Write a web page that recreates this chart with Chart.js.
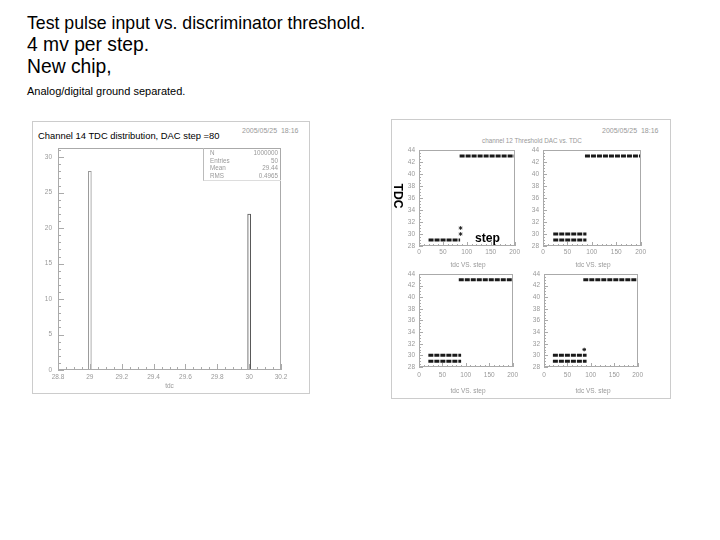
<!DOCTYPE html>
<html>
<head>
<meta charset="utf-8">
<script src="https://cdn.jsdelivr.net/npm/chart.js@4.4.1/dist/chart.umd.min.js"></script>
<style>
body { margin:0; background:#fff; width:720px; height:540px; position:relative; overflow:hidden; font-family:"Liberation Sans", Arial, sans-serif; }
.t { position:absolute; white-space:nowrap; line-height:1; }
.g { color:#999; }
canvas { position:absolute; }
.frame { position:absolute; border:1px solid #ccc; box-sizing:border-box; }
</style>
</head>
<body>

<div class="t" style="left:27px;top:15px;font-size:17.7px">Test pulse input vs. discriminator threshold.</div>
<div class="t" style="left:27px;top:35px;font-size:19.3px">4 mv per step.</div>
<div class="t" style="left:27px;top:57px;font-size:19.3px">New chip,</div>
<div class="t" style="left:27px;top:86px;font-size:11px">Analog/digital ground separated.</div>

<!-- left picture: TDC histogram -->
<div class="frame" style="left:32px;top:121px;width:278px;height:273px"></div>
<div class="t" style="left:38px;top:131px;font-size:9.4px">Channel 14 TDC distribution, DAC step =80</div>
<div class="t g" style="left:242px;top:127px;font-size:7px">2005/05/25&nbsp;&nbsp;18:16</div>
<canvas id="hist" width="277" height="271" style="left:32px;top:122px"></canvas>
<div id="stats" style="position:absolute;left:203px;top:148px;width:78px;height:33px;border-left:1px solid #bbb;border-bottom:1px solid #ddd;box-sizing:border-box"></div>

<!-- right picture: TDC vs DAC step, four channels -->
<div class="frame" style="left:391px;top:119px;width:280px;height:280px"></div>
<div class="t g" style="left:602px;top:127px;font-size:7px">2005/05/25&nbsp;&nbsp;18:16</div>
<div class="t g" style="left:482px;top:138px;font-size:6.3px">channel 12 Threshold DAC vs. TDC</div>
<canvas id="tl" width="127" height="118" style="left:395px;top:142px"></canvas>
<canvas id="tr" width="129" height="118" style="left:519px;top:142px"></canvas>
<canvas id="bl" width="127" height="115" style="left:395px;top:266px"></canvas>
<canvas id="br" width="127" height="115" style="left:520px;top:266px"></canvas>
<div class="t g" style="left:468px;top:262px;font-size:6.5px;transform:translateX(-50%)">tdc VS. step</div>
<div class="t g" style="left:593px;top:262px;font-size:6.5px;transform:translateX(-50%)">tdc VS. step</div>
<div class="t g" style="left:468px;top:388px;font-size:6.5px;transform:translateX(-50%)">tdc VS. step</div>
<div class="t g" style="left:593px;top:388px;font-size:6.5px;transform:translateX(-50%)">tdc VS. step</div>

<div class="t" style="left:398px;top:196px;font-size:12.2px;font-weight:bold;transform:translate(-50%,-50%) rotate(90deg)">TDC</div>
<div class="t" style="left:475px;top:232px;font-size:12.2px;font-weight:bold">step</div>

<script>
// histogram of channel 14
var tdcBins = [29, 30];
var tdcCounts = [28, 22];
var binColors = ['#999', '#555'];
var histX = [28.8, 30.2];
var histY = [0, 31.3];
var statNames = ['N', 'Entries', 'Mean', 'RMS'];
var statValues = ['1000000', '50', '29.44', '0.4965'];

// TDC vs threshold step, four panels
var stepAxis = [0, 200];
var tdcAxis = [28, 44];
var highTdc = 43;
// first and last DAC step of each run of hits
var tlLowRun = [20, 86], trLowRun = [21, 89], blLowRun = [20, 90], brLowRun = [19, 91];
var tlHighRun = [85, 200], trHighRun = [86, 200], blHighRun = [85, 200], brHighRun = [84, 200];
var tlLowTdc = [29], trLowTdc = [29, 30], blLowTdc = [29, 30], brLowTdc = [29, 30];
var tlStray = [{x: 87, y: 30}, {x: 87, y: 31}];
var trStray = [];
var blStray = [];
var brStray = [{x: 86, y: 31}];

var grey = '#999';
var tickFont = {family: 'Liberation Sans', size: 6.5};

// ROOT style frame with ticks drawn inside the pad
var rootFrame = {
    id: 'rootFrame',
    afterDatasetsDraw: function(chart, args, o) {
        var ctx = chart.ctx, a = chart.chartArea;
        var x = chart.scales.x, y = chart.scales.y;
        ctx.save();
        ctx.strokeStyle = '#aaa';
        ctx.lineWidth = 1;
        ctx.strokeRect(Math.round(a.left) + 0.5, Math.round(a.top) + 0.5, Math.round(a.width) - 1, Math.round(a.height) - 1);
        ctx.beginPath();
        var nx = Math.round((x.max - x.min) / o.xMinor);
        for (var i = 0; i <= nx; i++) {
            var px = Math.round(x.getPixelForValue(x.min + i * o.xMinor)) + 0.5;
            var len = i % o.xMajorEvery === 0 ? o.major : o.minor;
            ctx.moveTo(px, a.bottom);
            ctx.lineTo(px, a.bottom - len);
        }
        var ny = Math.round((y.max - y.min) / o.yMinor);
        for (var j = 0; j <= ny; j++) {
            var py = Math.round(y.getPixelForValue(y.min + j * o.yMinor)) + 0.5;
            var len2 = j % o.yMajorEvery === 0 ? o.major : o.minor;
            ctx.moveTo(a.left, py);
            ctx.lineTo(a.left + len2, py);
        }
        ctx.stroke();
        ctx.restore();
    }
};

var statsBox = document.getElementById('stats');
for (var s = 0; s < statNames.length; s++) {
    var row = document.createElement('div');
    row.className = 't g';
    row.style.cssText = 'position:absolute;left:6px;right:3px;font-size:6.3px;top:' + (2 + s * 7.6) + 'px';
    row.innerHTML = '<span>' + statNames[s] + '</span><span style="float:right">' + statValues[s] + '</span>';
    statsBox.appendChild(row);
}

new Chart(document.getElementById('hist'), {
    type: 'bar',
    data: {
        datasets: [{
            data: tdcBins.map(function(b, i) { return {x: b, y: tdcCounts[i]}; }),
            backgroundColor: '#fff',
            borderColor: binColors,
            borderWidth: 1,
            borderSkipped: false,
            barThickness: 3
        }]
    },
    options: {
        responsive: false,
        animation: false,
        layout: {padding: {top: 26, right: 28, left: 0, bottom: 0}},
        plugins: {
            legend: {display: false},
            tooltip: {enabled: false},
            rootFrame: {xMinor: 0.05, xMajorEvery: 4, yMinor: 1, yMajorEvery: 5, major: 6, minor: 3}
        },
        scales: {
            x: {
                type: 'linear', min: histX[0], max: histX[1], offset: false,
                afterFit: function(sc) { sc.height = 23; },
                grid: {display: false, drawTicks: false, offset: false},
                border: {display: false},
                ticks: {stepSize: 0.2, padding: 3, color: grey, font: tickFont, maxRotation: 0, autoSkip: false, includeBounds: false,
                        callback: function(v) { return +v.toFixed(1); }},
                title: {display: true, text: 'tdc', color: grey, font: tickFont, padding: {top: 0, bottom: 3}}
            },
            y: {
                min: histY[0], max: histY[1],
                afterFit: function(sc) { sc.width = 26; },
                grid: {display: false, drawTicks: false},
                border: {display: false},
                ticks: {stepSize: 5, padding: 6, color: grey, font: tickFont, includeBounds: false}
            }
        }
    },
    plugins: [rootFrame]
});

function tdcPanel(id, lowRun, lowTdc, highRun, stray, xPad) {
    var datasets = lowTdc.map(function(t) {
        return {data: [{x: lowRun[0], y: t}, {x: lowRun[1], y: t}]};
    });
    datasets.push({data: [{x: highRun[0], y: highTdc}, {x: highRun[1], y: highTdc}]});
    datasets.forEach(function(d) {
        d.borderColor = '#1a1a1a';
        d.borderWidth = 3;
        d.borderDash = [5, 1];
        d.pointRadius = 0;
    });
    datasets.push({
        data: stray, showLine: false, pointStyle: 'star', pointRadius: 1.8,
        borderColor: '#222', borderWidth: 1
    });
    new Chart(document.getElementById(id), {
        type: 'line',
        data: {datasets: datasets},
        options: {
            responsive: false,
            animation: false,
            layout: {padding: {top: 6, right: 6, left: 0, bottom: 0}},
            plugins: {
                legend: {display: false},
                tooltip: {enabled: false},
                rootFrame: {xMinor: 10, xMajorEvery: 5, yMinor: 0.5, yMajorEvery: 4, major: 4, minor: 2}
            },
            scales: {
                x: {
                    type: 'linear', min: stepAxis[0], max: stepAxis[1],
                    afterFit: function(sc) { sc.height = 14; },
                    grid: {display: false, drawTicks: false},
                    border: {display: false},
                    ticks: {stepSize: 50, padding: xPad, color: grey, font: tickFont, maxRotation: 0, autoSkip: false}
                },
                y: {
                    min: tdcAxis[0], max: tdcAxis[1],
                    afterFit: function(sc) { sc.width = 24; },
                    grid: {display: false, drawTicks: false},
                    border: {display: false},
                    ticks: {stepSize: 2, padding: 4, color: grey, font: tickFont}
                }
            }
        },
        plugins: [rootFrame]
    });
}

tdcPanel('tl', tlLowRun, tlLowTdc, tlHighRun, tlStray, 2);
tdcPanel('tr', trLowRun, trLowTdc, trHighRun, trStray, 2);
tdcPanel('bl', blLowRun, blLowTdc, blHighRun, blStray, 4);
tdcPanel('br', brLowRun, brLowTdc, brHighRun, brStray, 4);
</script>
</body>
</html>
